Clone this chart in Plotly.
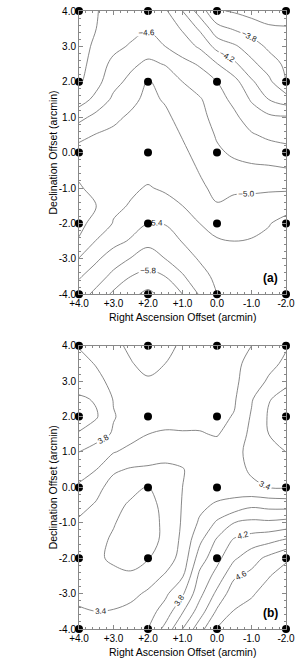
import plotly.graph_objects as go

# grid coordinates (arcmin), 0.5 arcmin spacing
x_vals = [4, 3.5, 3, 2.5, 2, 1.5, 1, 0.5, 0, -0.5, -1, -1.5, -2]
y_vals = [4, 3.5, 3, 2.5, 2, 1.5, 1, 0.5, 0, -0.5, -1, -1.5, -2, -2.5, -3, -3.5, -4]

z_a = [
    [-4.28, -4.39, -4.47, -4.49, -4.50, -4.43, -4.20, -3.91, -3.62, -3.58, -3.53, -3.50, -3.48],
    [-4.29, -4.40, -4.50, -4.54, -4.58, -4.52, -4.38, -4.17, -3.87, -3.78, -3.70, -3.63, -3.62],
    [-4.30, -4.45, -4.55, -4.62, -4.70, -4.60, -4.50, -4.37, -4.13, -4.03, -3.90, -3.76, -3.70],
    [-4.32, -4.50, -4.65, -4.76, -4.84, -4.79, -4.66, -4.58, -4.41, -4.24, -4.05, -3.90, -3.76],
    [-4.37, -4.53, -4.74, -4.85, -5.02, -4.92, -4.80, -4.70, -4.60, -4.47, -4.23, -4.05, -3.80],
    [-4.50, -4.66, -4.84, -4.95, -5.05, -4.98, -4.87, -4.82, -4.68, -4.55, -4.38, -4.20, -4.10],
    [-4.74, -4.86, -4.96, -5.03, -5.08, -5.04, -4.93, -4.86, -4.73, -4.64, -4.50, -4.44, -4.42],
    [-4.94, -5.01, -5.04, -5.08, -5.10, -5.07, -4.99, -4.91, -4.78, -4.71, -4.62, -4.56, -4.53],
    [-5.08, -5.10, -5.10, -5.12, -5.13, -5.10, -5.03, -4.95, -4.83, -4.77, -4.72, -4.70, -4.67],
    [-5.04, -5.10, -5.12, -5.15, -5.16, -5.13, -5.07, -4.99, -4.90, -4.86, -4.85, -4.84, -4.82],
    [-4.98, -5.06, -5.14, -5.18, -5.21, -5.18, -5.12, -5.03, -4.96, -4.97, -4.97, -4.97, -4.97],
    [-4.93, -5.00, -5.17, -5.21, -5.30, -5.25, -5.20, -5.10, -5.01, -5.05, -5.06, -5.10, -5.13],
    [-4.94, -5.08, -5.21, -5.32, -5.40, -5.39, -5.28, -5.20, -5.12, -5.14, -5.15, -5.19, -5.26],
    [-5.02, -5.21, -5.34, -5.42, -5.55, -5.50, -5.39, -5.30, -5.22, -5.20, -5.21, -5.24, -5.29],
    [-5.21, -5.37, -5.50, -5.61, -5.69, -5.60, -5.50, -5.38, -5.29, -5.26, -5.27, -5.28, -5.30],
    [-5.38, -5.50, -5.66, -5.80, -5.86, -5.80, -5.62, -5.48, -5.35, -5.30, -5.30, -5.30, -5.31],
    [-5.50, -5.66, -5.84, -5.95, -6.05, -5.93, -5.80, -5.58, -5.40, -5.36, -5.33, -5.32, -5.32],
]

# panel (b) values
z_b = [
    [3.79, 3.74, 3.64, 3.57, 3.50, 3.55, 3.63, 3.70, 3.81, 3.65, 3.60, 3.52, 3.42],
    [3.85, 3.79, 3.70, 3.61, 3.55, 3.60, 3.67, 3.72, 3.72, 3.64, 3.55, 3.46, 3.36],
    [3.90, 3.84, 3.76, 3.68, 3.62, 3.65, 3.70, 3.71, 3.68, 3.63, 3.52, 3.37, 3.23],
    [4.03, 3.98, 3.79, 3.72, 3.68, 3.68, 3.68, 3.68, 3.66, 3.62, 3.42, 3.21, 3.15],
    [4.10, 4.02, 3.81, 3.74, 3.69, 3.66, 3.64, 3.64, 3.64, 3.59, 3.38, 3.18, 3.10],
    [3.98, 3.88, 3.78, 3.66, 3.60, 3.58, 3.59, 3.59, 3.61, 3.53, 3.35, 3.20, 3.14],
    [3.80, 3.72, 3.61, 3.55, 3.50, 3.45, 3.47, 3.50, 3.53, 3.45, 3.35, 3.25, 3.20],
    [3.68, 3.60, 3.43, 3.38, 3.37, 3.37, 3.39, 3.48, 3.50, 3.45, 3.38, 3.32, 3.30],
    [3.57, 3.46, 3.32, 3.24, 3.19, 3.30, 3.40, 3.48, 3.49, 3.50, 3.43, 3.40, 3.39],
    [3.46, 3.38, 3.24, 3.18, 3.13, 3.26, 3.41, 3.55, 3.63, 3.67, 3.76, 3.73, 3.72],
    [3.37, 3.30, 3.21, 3.14, 3.10, 3.25, 3.42, 3.63, 3.83, 4.00, 4.05, 4.04, 4.07],
    [3.32, 3.24, 3.18, 3.12, 3.10, 3.26, 3.44, 3.76, 4.03, 4.23, 4.30, 4.35, 4.43],
    [3.30, 3.22, 3.18, 3.15, 3.19, 3.30, 3.47, 3.90, 4.14, 4.37, 4.52, 4.65, 4.77],
    [3.31, 3.25, 3.23, 3.22, 3.31, 3.42, 3.58, 4.05, 4.27, 4.57, 4.65, 4.79, 4.88],
    [3.35, 3.32, 3.32, 3.35, 3.43, 3.56, 3.77, 4.14, 4.45, 4.72, 4.78, 4.87, 4.94],
    [3.42, 3.40, 3.41, 3.45, 3.52, 3.68, 3.98, 4.30, 4.63, 4.81, 4.86, 4.92, 5.00],
    [3.46, 3.45, 3.45, 3.52, 3.60, 3.86, 4.20, 4.52, 4.82, 4.90, 4.93, 4.97, 5.05],
]

# observed positions (black dots)
dot_x = [4, 2, 0, -2]
dot_y = [4, 2, 0, -2, -4]

x_tickvals = [4, 3, 2, 1, 0, -1, -2]
x_ticktext = ["+4.0", "+3.0", "+2.0", "+1.0", "0.0", "-1.0", "-2.0"]
y_tickvals = [4, 3, 2, 1, 0, -1, -2, -3, -4]
y_ticktext = ["4.0", "3.0", "2.0", "1.0", "0.0", "-1.0", "-2.0", "-3.0", "-4.0"]

x_title = "Right Ascension Offset (arcmin)"
y_title = "Declination Offset (arcmin)"
panel_labels = ["(a)", "(b)"]

# contour levels: unlabeled and labeled sets
levels_a_plain = dict(start=-6.0, end=-3.6, size=0.4)
levels_a_label = dict(start=-5.8, end=-3.4, size=0.4)
levels_b_plain = dict(start=3.2, end=4.8, size=0.4)
levels_b_label = dict(start=3.4, end=4.6, size=0.4)

FONT = "Liberation Sans, Arial, sans-serif"
LINE_COL = "#7a7a7a"
gray_scale = [[0, LINE_COL], [1, LINE_COL]]

fig = go.Figure()


def add_panel(z, plain, labeled, xa, ya):
    fig.add_trace(go.Contour(
        x=x_vals, y=y_vals, z=z, xaxis=xa, yaxis=ya,
        contours=dict(coloring="lines", showlabels=False, **plain),
        line=dict(width=0.9, smoothing=1.0),
        colorscale=gray_scale, showscale=False, hoverinfo="skip",
    ))
    fig.add_trace(go.Contour(
        x=x_vals, y=y_vals, z=z, xaxis=xa, yaxis=ya,
        contours=dict(coloring="lines", showlabels=True,
                      labelfont=dict(size=8, color="#222", family=FONT),
                      labelformat=".1f", **labeled),
        line=dict(width=0.9, smoothing=1.0),
        colorscale=gray_scale, showscale=False, hoverinfo="skip",
    ))
    dx = [xv for yv in dot_y for xv in dot_x]
    dy = [yv for yv in dot_y for xv in dot_x]
    fig.add_trace(go.Scatter(
        x=dx, y=dy, xaxis=xa, yaxis=ya, mode="markers",
        marker=dict(size=8, color="black"), cliponaxis=False,
        hoverinfo="skip", showlegend=False,
    ))


add_panel(z_a, levels_a_plain, levels_a_label, "x", "y")
add_panel(z_b, levels_b_plain, levels_b_label, "x2", "y2")

axis_common = dict(
    showgrid=False, zeroline=False, showline=True, linecolor="#888",
    linewidth=1, mirror="allticks", ticks="inside", ticklen=4,
    tickcolor="#888", tickfont=dict(family=FONT, size=10, color="black"),
    ticklabeloverflow="allow",
    minor=dict(ticks="inside", ticklen=2, tickcolor="#888", dtick=0.2,
               showgrid=False),
)

fig.update_layout(
    width=300, height=661,
    margin=dict(l=79, r=8, t=5, b=32),
    paper_bgcolor="white", plot_bgcolor="white",
    showlegend=False,
    font=dict(family=FONT, size=10, color="black"),
    xaxis=dict(axis_common, range=[4, -2], tickvals=x_tickvals,
               ticktext=x_ticktext, anchor="y", domain=[0, 1]),
    yaxis=dict(axis_common, range=[-4, 4], tickvals=y_tickvals,
               ticktext=y_ticktext, anchor="x", domain=[0.5417, 1]),
    xaxis2=dict(axis_common, range=[4, -2], tickvals=x_tickvals,
                ticktext=x_ticktext, anchor="y2", domain=[0, 1]),
    yaxis2=dict(axis_common, range=[-4, 4], tickvals=y_tickvals,
                ticktext=y_ticktext, anchor="x2", domain=[0, 0.4583]),
)

ann = []
for i, ydom in enumerate([(0.5417, 1), (0, 0.4583)]):
    mid = (ydom[0] + ydom[1]) / 2
    ann.append(dict(text=y_title, xref="paper", yref="paper", x=-0.126,
                    y=mid, xanchor="center", yanchor="middle",
                    textangle=-90, showarrow=False,
                    font=dict(family=FONT, size=10.5)))
    ann.append(dict(text=x_title, xref="paper", yref="paper", x=0.5,
                    y=ydom[0], yshift=-23, xanchor="center",
                    yanchor="middle", showarrow=False,
                    font=dict(family=FONT, size=10.5)))
    ann.append(dict(text="<b>" + panel_labels[i] + "</b>",
                    xref="paper", yref="paper", x=0.925,
                    y=ydom[0], yshift=16, xanchor="center",
                    yanchor="middle", showarrow=False,
                    font=dict(family=FONT, size=12)))
fig.update_layout(annotations=ann)

fig.write_html(
    "out.html",
    config={"displayModeBar": False},
    post_script="document.body.style.margin='0';document.body.style.padding='0';",
)
